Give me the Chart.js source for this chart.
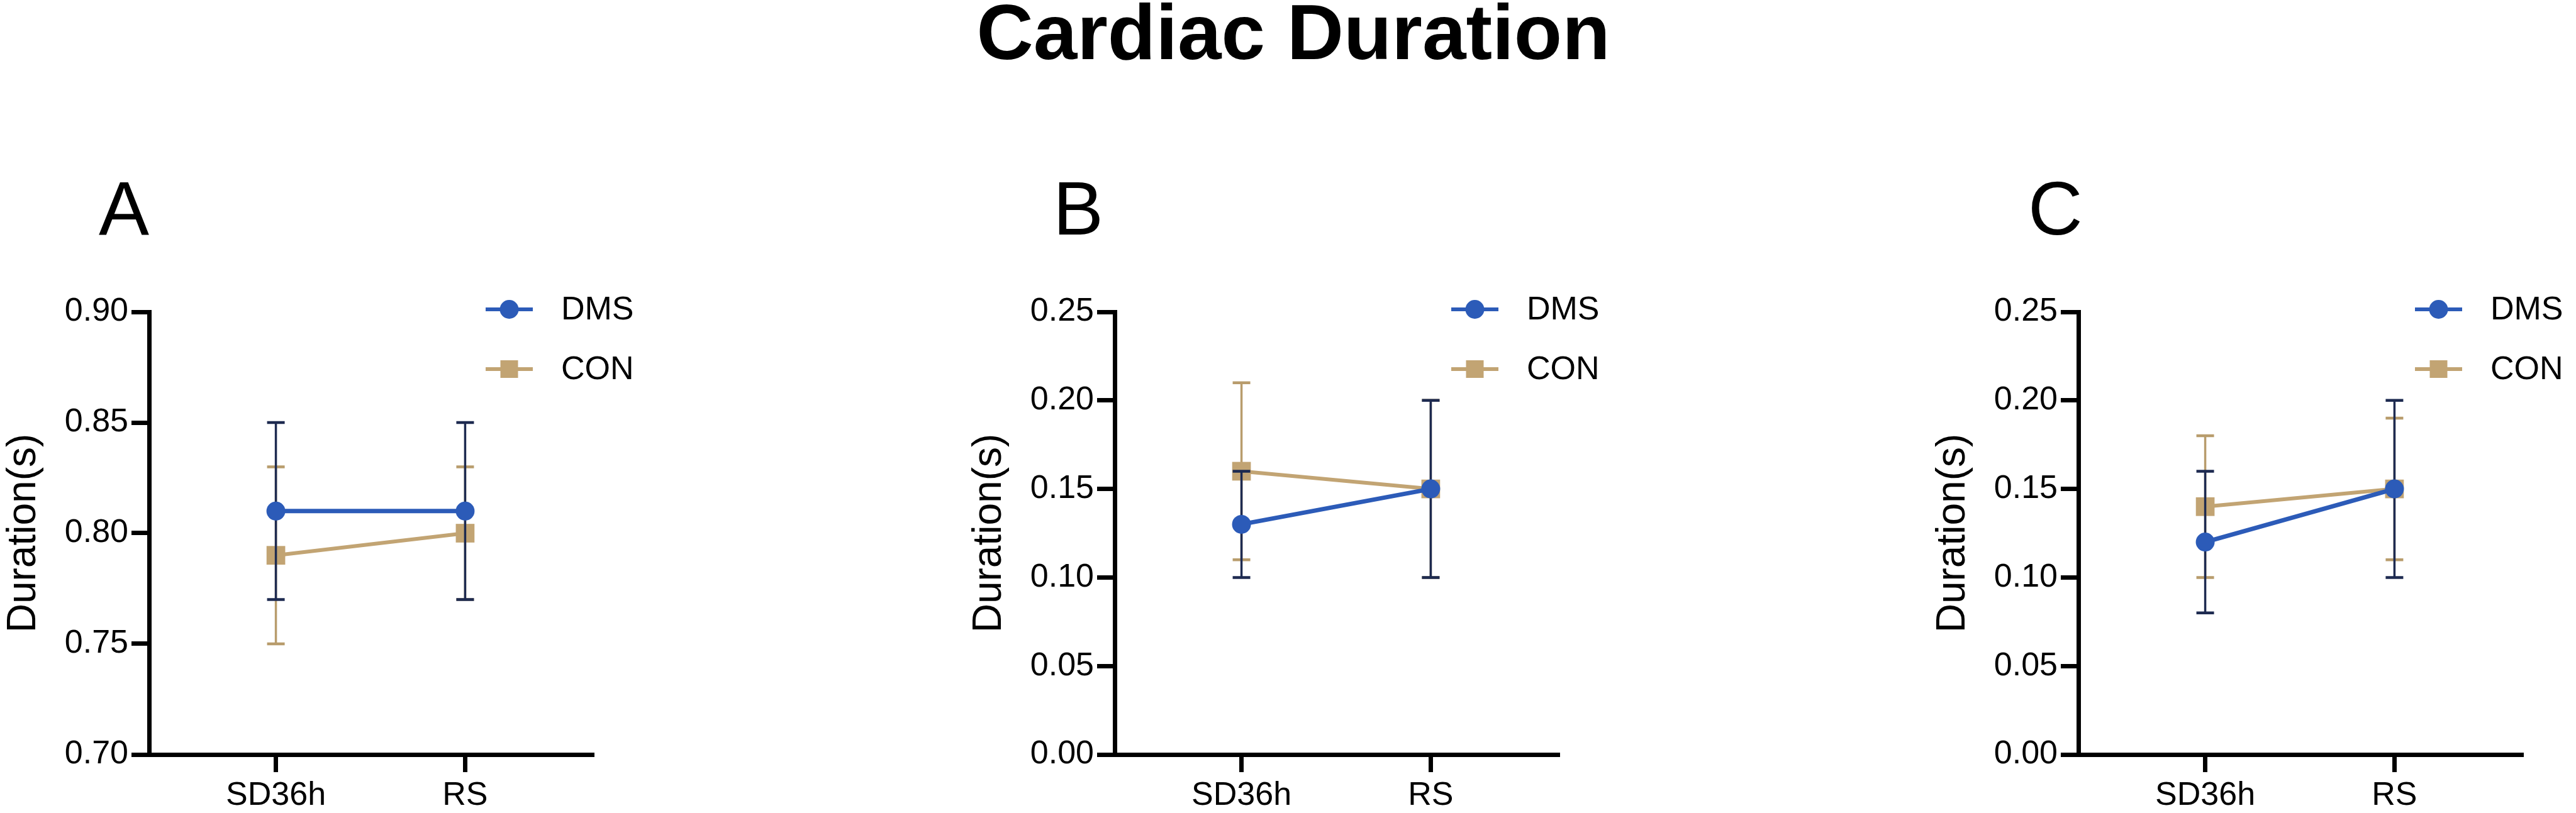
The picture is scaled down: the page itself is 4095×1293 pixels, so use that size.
<!DOCTYPE html>
<html>
<head>
<meta charset="utf-8">
<script src="https://cdn.jsdelivr.net/npm/chart.js@4.4.1/dist/chart.umd.min.js"></script>
<style>
  html, body { margin: 0; padding: 0; background: #ffffff; overflow: hidden; }
  body { width: 4095px; height: 1293px; position: relative; font-family: "Liberation Sans", Arial, sans-serif; }
  .main-title { position: absolute; left: 2056px; top: -12px; transform: translateX(-50%); font-size: 125px; line-height: 1; font-weight: bold; color: #000; white-space: nowrap; }
  .letter { position: absolute; top: 271px; font-size: 120px; line-height: 1; color: #000; }
  .panel { position: absolute; top: 400px; width: 1028px; height: 893px; }
</style>
</head>
<body>
<div class="main-title">Cardiac Duration</div>
<div class="letter" style="left:157px">A</div>
<div class="letter" style="left:1674px">B</div>
<div class="letter" style="left:3224px">C</div>
<div class="panel" style="left:0px"><canvas id="cA" width="1028" height="893"></canvas></div>
<div class="panel" style="left:1535px"><canvas id="cB" width="1028" height="893"></canvas></div>
<div class="panel" style="left:3067px"><canvas id="cC" width="1028" height="893"></canvas></div>
<script>
// ---------- data ----------
const categories = ['SD36h', 'RS'];
const seriesNames = ['DMS', 'CON'];
const yTitle = 'Duration(s)';

const ticksA = [0.70, 0.75, 0.80, 0.85, 0.90];
const ticksBC = [0.00, 0.05, 0.10, 0.15, 0.20, 0.25];

// Panel A
const dmsA = [0.81, 0.81];
const dmsALow = [0.77, 0.77];
const dmsAHigh = [0.85, 0.85];
const conA = [0.79, 0.80];
const conALow = [0.75, 0.77];
const conAHigh = [0.83, 0.83];

// Panel B
const dmsB = [0.13, 0.15];
const dmsBLow = [0.10, 0.10];
const dmsBHigh = [0.16, 0.20];
const conB = [0.16, 0.15];
const conBLow = [0.11, 0.10];
const conBHigh = [0.21, 0.20];

// Panel C
const dmsC = [0.12, 0.15];
const dmsCLow = [0.08, 0.10];
const dmsCHigh = [0.16, 0.20];
const conC = [0.14, 0.15];
const conCLow = [0.10, 0.11];
const conCHigh = [0.18, 0.19];

// ---------- styles ----------
const BLUE = '#2c5bb8';
const NAVY = '#1d2a50';
const TAN = '#c2a473';
const TAN_ERR = '#b89c6c';
const FONT = '"Liberation Sans", Arial, sans-serif';

const errorBarPlugin = {
  id: 'errorBars',
  beforeDatasetDraw(chart, args) {
    const ds = chart.data.datasets[args.index];
    if (!ds.errLow) return;
    const xs = chart.scales.x, ys = chart.scales.y;
    const ctx = chart.ctx;
    ctx.save();
    ctx.strokeStyle = ds.errColor;
    ds.data.forEach((p, i) => {
      const x = xs.getPixelForValue(p.x);
      const yl = ys.getPixelForValue(ds.errLow[i]);
      const yh = ys.getPixelForValue(ds.errHigh[i]);
      ctx.lineWidth = 3.5;
      ctx.beginPath();
      ctx.moveTo(x, yl); ctx.lineTo(x, yh);
      ctx.stroke();
      ctx.lineWidth = 4.5;
      ctx.beginPath();
      ctx.moveTo(x - 14, yl); ctx.lineTo(x + 14, yl);
      ctx.moveTo(x - 14, yh); ctx.lineTo(x + 14, yh);
      ctx.stroke();
    });
    ctx.restore();
  }
};

const legendPlugin = {
  id: 'sideLegend',
  afterDraw(chart) {
    const ctx = chart.ctx;
    const a = chart.chartArea;
    const rows = [chart.data.datasets[0], chart.data.datasets[1]];
    const ys = [a.top - 4, a.top + 91];
    ctx.save();
    rows.forEach((ds, k) => {
      const y = ys[k];
      const x0 = a.left + 535, x1 = a.left + 610, xc = (x0 + x1) / 2;
      ctx.strokeStyle = ds.borderColor;
      ctx.lineWidth = 6;
      ctx.beginPath(); ctx.moveTo(x0, y); ctx.lineTo(x1, y); ctx.stroke();
      ctx.fillStyle = ds.pointBackgroundColor;
      if (ds.pointStyle === 'circle') {
        ctx.beginPath(); ctx.arc(xc, y, 15, 0, Math.PI * 2); ctx.fill();
      } else {
        ctx.fillRect(xc - 14, y - 14, 28, 28);
      }
      ctx.fillStyle = '#000';
      ctx.font = '52px ' + FONT;
      ctx.textAlign = 'left';
      ctx.textBaseline = 'middle';
      ctx.fillText(ds.label, a.left + 655, y + 2);
    });
    ctx.restore();
  }
};

function pts(vals) { return categories.map((c, i) => ({ x: i, y: vals[i] })); }

function makeChart(id, tickVals, dms, dmsLow, dmsHigh, con, conLow, conHigh) {
  const ctx = document.getElementById(id).getContext('2d');
  return new Chart(ctx, {
    type: 'line',
    data: {
      datasets: [
        {
          label: seriesNames[0], data: pts(dms), errLow: dmsLow, errHigh: dmsHigh, errColor: NAVY,
          borderColor: BLUE, borderWidth: 7, pointStyle: 'circle', pointRadius: 15,
          pointBackgroundColor: BLUE, pointBorderWidth: 0, pointHoverRadius: 15, tension: 0
        },
        {
          label: seriesNames[1], data: pts(con), errLow: conLow, errHigh: conHigh, errColor: TAN_ERR,
          borderColor: TAN, borderWidth: 6, pointStyle: 'rect', pointRadius: 21,
          pointBackgroundColor: TAN, pointBorderWidth: 0, pointHoverRadius: 21, tension: 0
        }
      ]
    },
    options: {
      responsive: false,
      animation: false,
      devicePixelRatio: 1,
      layout: { padding: { top: 96, right: 84, left: 0, bottom: 0 } },
      plugins: { legend: { display: false }, tooltip: { enabled: false }, title: { display: false } },
      scales: {
        x: {
          type: 'linear', min: -0.67, max: 1.68,
          afterBuildTicks: (s) => { s.ticks = categories.map((c, i) => ({ value: i })); },
          afterFit: (s) => { s.height = 93; },
          ticks: {
            autoSkip: false, maxRotation: 0, minRotation: 0, padding: 6,
            color: '#000', font: { family: FONT, size: 52 },
            callback: (v) => categories[v]
          },
          grid: { drawOnChartArea: false, drawTicks: true, tickLength: 28, tickWidth: 7, tickColor: '#000' },
          border: { display: true, width: 7, color: '#000' }
        },
        y: {
          min: tickVals[0], max: tickVals[tickVals.length - 1],
          afterBuildTicks: (s) => { s.ticks = tickVals.map(v => ({ value: v })); },
          afterFit: (s) => { s.width = 237; },
          ticks: {
            padding: 5, color: '#000', font: { family: FONT, size: 52 },
            callback: (v) => Number(v).toFixed(2)
          },
          grid: { drawOnChartArea: false, drawTicks: true, tickLength: 28, tickWidth: 7, tickColor: '#000' },
          border: { display: true, width: 7, color: '#000' },
          title: { display: true, text: yTitle, color: '#000', font: { family: FONT, size: 64 }, padding: 0 }
        }
      }
    },
    plugins: [errorBarPlugin, legendPlugin]
  });
}

makeChart('cA', ticksA, dmsA, dmsALow, dmsAHigh, conA, conALow, conAHigh);
makeChart('cB', ticksBC, dmsB, dmsBLow, dmsBHigh, conB, conBLow, conBHigh);
makeChart('cC', ticksBC, dmsC, dmsCLow, dmsCHigh, conC, conCLow, conCHigh);
</script>
</body>
</html>
